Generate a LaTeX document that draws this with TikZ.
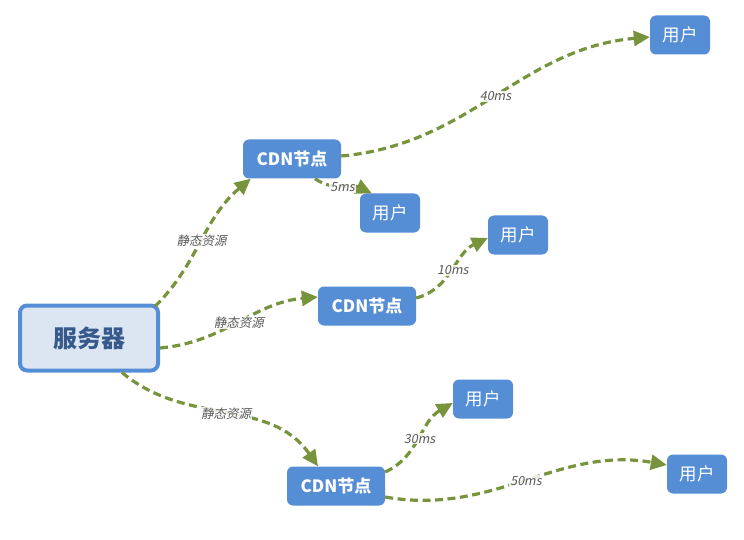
\documentclass[tikz,border=0pt]{standalone}
\usepackage{fontspec}
\setmainfont{Noto Sans CJK SC}
\newfontfamily\slfont[FakeSlant=0.2]{Noto Sans CJK SC}
\usepackage{tikz}
\usetikzlibrary{arrows.meta,positioning}
\definecolor{boxblue}{HTML}{558ED5}
\definecolor{srvfill}{HTML}{DCE6F2}
\definecolor{srvtext}{HTML}{375A8C}
\definecolor{linkgreen}{HTML}{77933C}
\definecolor{labelgray}{HTML}{595959}

\begin{document}
\begin{tikzpicture}[x=1pt, y=1pt, ->, >={Triangle[length=16pt,width=15pt]}]
\tikzstyle{server}=[draw=boxblue, line width=4pt, fill=srvfill, rounded corners=7pt, minimum width=138pt, minimum height=65pt, text=srvtext, font=\bfseries\fontsize{24}{24}\selectfont]
\tikzstyle{cdn}=[fill=boxblue, rounded corners=6pt, minimum width=98pt, minimum height=39pt, text=white, font=\bfseries\fontsize{17}{17}\selectfont]
\tikzstyle{user}=[cdn, minimum width=60pt, font=\fontsize{17.5}{17.5}\selectfont]
\tikzstyle{link}=[draw=linkgreen, line width=3.2pt, dash pattern=on 8pt off 4.5pt]
\tikzstyle{lbl}=[fill=white, fill opacity=0.85, text opacity=1, text=labelgray, font=\slfont\fontsize{12.5}{12.5}\selectfont, inner sep=1pt, pos=0.5]
\useasboundingbox (0,0) rectangle (744,-540);

\node[server] (srv)  at (89,-338)  {服务器};
\node[cdn]    (cdn1) at (292,-159) {CDN节点};
\node[cdn]    (cdn2) at (367,-306) {CDN节点};
\node[cdn]    (cdn3) at (336,-486) {CDN节点};
\node[user]   (u1)   at (680,-35)  {用户};
\node[user]   (u2)   at (390,-213) {用户};
\node[user]   (u3)   at (518,-235) {用户};
\node[user]   (u4)   at (483,-399) {用户};
\node[user]   (u5)   at (697,-474) {用户};

\path
([xshift=-5pt,yshift=-3pt]srv.north east) edge[link, out=45, in=220]  node[lbl]{静态资源} ([xshift=8pt]cdn1.south west)
([yshift=-10pt]srv.east)                  edge[link, out=5, in=185]   node[lbl]{静态资源} ([yshift=9pt]cdn2.west)
([xshift=33pt]srv.south)                  edge[link, out=-40, in=125] node[lbl]{静态资源} ([xshift=-18pt]cdn3.north)

([yshift=3pt]cdn1.east)   edge[link, out=5, in=185]   node[lbl]{40ms} ([yshift=-2pt]u1.west)
([xshift=23pt]cdn1.south) edge[link, out=-35, in=155] node[lbl]{5ms}  ([xshift=12pt]u2.north west)
([yshift=8pt]cdn2.east)   edge[link, out=15, in=205]  node[lbl]{10ms} ([yshift=-3pt]u3.west)
([yshift=14pt]cdn3.east)  edge[link, out=25, in=210]  node[lbl]{30ms} ([yshift=-4pt]u4.west)
([yshift=-11pt]cdn3.east) edge[link, out=-10, in=170] node[lbl]{50ms} ([yshift=9pt]u5.west);

\end{tikzpicture}
\end{document}
